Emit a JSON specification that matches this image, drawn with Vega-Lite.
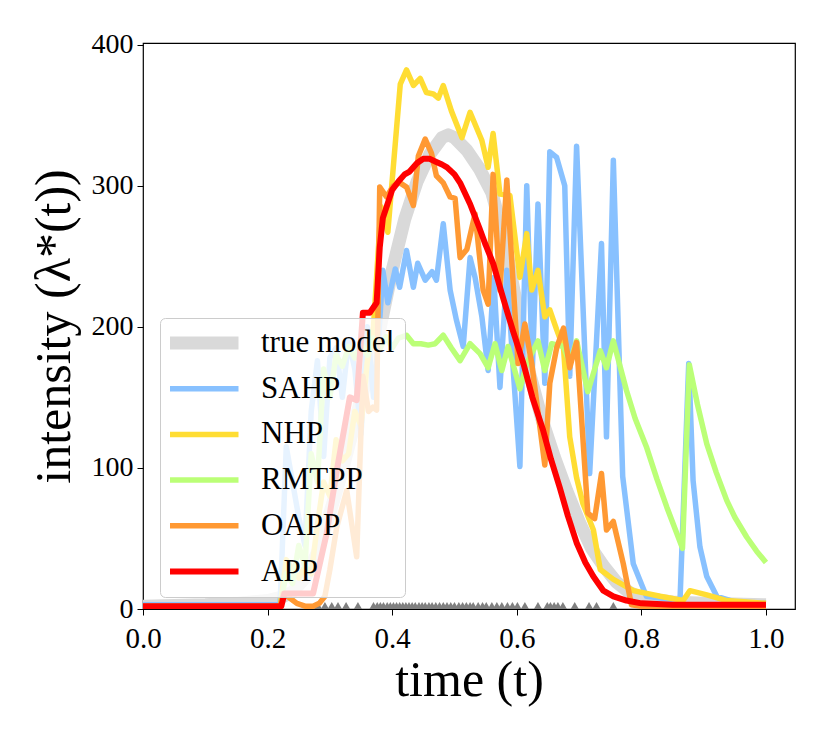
{
  "$schema": "https://vega.github.io/schema/vega-lite/v6.json",
  "width": 652,
  "height": 566,
  "autosize": "none",
  "padding": {"left": 143, "top": 43, "right": 35, "bottom": 129},
  "background": "white",
  "config": {
    "view": {"stroke": "black", "strokeWidth": 1.2},
    "font": "Liberation Serif",
    "axis": {
      "domain": false, "grid": false, "tickColor": "black", "tickSize": 6, "tickWidth": 1, "labelFlush": false,
      "labelFont": "Liberation Serif", "labelFontSize": 29, "labelColor": "black", "labelPadding": 3,
      "titleFont": "Liberation Serif", "titleFontSize": 50, "titleFontWeight": "normal", "titleColor": "black"
    },
    "axisX": {"labelPadding": 9},
    "axisY": {"labelFontSize": 28, "labelPadding": 4}
  },
  "datasets": {
    "events": [
      {"t": 0.281}, {"t": 0.292}, {"t": 0.303}, {"t": 0.313}, {"t": 0.326}, {"t": 0.345},
      {"t": 0.370}, {"t": 0.376}, {"t": 0.381}, {"t": 0.386}, {"t": 0.392}, {"t": 0.397},
      {"t": 0.402}, {"t": 0.407}, {"t": 0.412}, {"t": 0.417}, {"t": 0.422}, {"t": 0.427},
      {"t": 0.432}, {"t": 0.437}, {"t": 0.443}, {"t": 0.448}, {"t": 0.453}, {"t": 0.459},
      {"t": 0.464}, {"t": 0.470}, {"t": 0.476}, {"t": 0.482}, {"t": 0.488}, {"t": 0.494},
      {"t": 0.500}, {"t": 0.507}, {"t": 0.513}, {"t": 0.519}, {"t": 0.525}, {"t": 0.530},
      {"t": 0.538}, {"t": 0.545}, {"t": 0.551}, {"t": 0.560}, {"t": 0.568}, {"t": 0.576},
      {"t": 0.585}, {"t": 0.593}, {"t": 0.601}, {"t": 0.613}, {"t": 0.634}, {"t": 0.649},
      {"t": 0.654}, {"t": 0.660}, {"t": 0.666}, {"t": 0.674}, {"t": 0.693}, {"t": 0.716},
      {"t": 0.728}, {"t": 0.755}
    ],
    "curves": [
      {"model": "true model", "t": 0, "v": 2}, {"model": "true model", "t": 0.05, "v": 2.5},
      {"model": "true model", "t": 0.1, "v": 3}, {"model": "true model", "t": 0.15, "v": 4},
      {"model": "true model", "t": 0.2, "v": 6}, {"model": "true model", "t": 0.22, "v": 8},
      {"model": "true model", "t": 0.24, "v": 12}, {"model": "true model", "t": 0.26, "v": 22},
      {"model": "true model", "t": 0.28, "v": 40}, {"model": "true model", "t": 0.30, "v": 68},
      {"model": "true model", "t": 0.32, "v": 98}, {"model": "true model", "t": 0.34, "v": 132},
      {"model": "true model", "t": 0.36, "v": 166}, {"model": "true model", "t": 0.38, "v": 198},
      {"model": "true model", "t": 0.40, "v": 240}, {"model": "true model", "t": 0.42, "v": 276},
      {"model": "true model", "t": 0.44, "v": 303}, {"model": "true model", "t": 0.46, "v": 322},
      {"model": "true model", "t": 0.48, "v": 334}, {"model": "true model", "t": 0.49, "v": 336},
      {"model": "true model", "t": 0.50, "v": 334}, {"model": "true model", "t": 0.52, "v": 325},
      {"model": "true model", "t": 0.54, "v": 312}, {"model": "true model", "t": 0.56, "v": 295},
      {"model": "true model", "t": 0.58, "v": 262}, {"model": "true model", "t": 0.60, "v": 215},
      {"model": "true model", "t": 0.62, "v": 168}, {"model": "true model", "t": 0.64, "v": 135},
      {"model": "true model", "t": 0.66, "v": 108}, {"model": "true model", "t": 0.68, "v": 84},
      {"model": "true model", "t": 0.70, "v": 62}, {"model": "true model", "t": 0.72, "v": 43},
      {"model": "true model", "t": 0.74, "v": 30}, {"model": "true model", "t": 0.76, "v": 19},
      {"model": "true model", "t": 0.78, "v": 12}, {"model": "true model", "t": 0.80, "v": 8},
      {"model": "true model", "t": 0.85, "v": 5}, {"model": "true model", "t": 0.90, "v": 4},
      {"model": "true model", "t": 1.0, "v": 3},

      {"model": "SAHP", "t": 0, "v": 3}, {"model": "SAHP", "t": 0.22, "v": 3},
      {"model": "SAHP", "t": 0.23, "v": 115}, {"model": "SAHP", "t": 0.24, "v": 90},
      {"model": "SAHP", "t": 0.25, "v": 65}, {"model": "SAHP", "t": 0.26, "v": 45},
      {"model": "SAHP", "t": 0.27, "v": 140}, {"model": "SAHP", "t": 0.28, "v": 176},
      {"model": "SAHP", "t": 0.29, "v": 108}, {"model": "SAHP", "t": 0.30, "v": 178},
      {"model": "SAHP", "t": 0.31, "v": 185}, {"model": "SAHP", "t": 0.32, "v": 150},
      {"model": "SAHP", "t": 0.33, "v": 190}, {"model": "SAHP", "t": 0.34, "v": 170},
      {"model": "SAHP", "t": 0.35, "v": 124}, {"model": "SAHP", "t": 0.36, "v": 200},
      {"model": "SAHP", "t": 0.37, "v": 150}, {"model": "SAHP", "t": 0.378, "v": 190},
      {"model": "SAHP", "t": 0.385, "v": 240}, {"model": "SAHP", "t": 0.393, "v": 217},
      {"model": "SAHP", "t": 0.405, "v": 241}, {"model": "SAHP", "t": 0.412, "v": 228},
      {"model": "SAHP", "t": 0.423, "v": 254}, {"model": "SAHP", "t": 0.434, "v": 228},
      {"model": "SAHP", "t": 0.441, "v": 245}, {"model": "SAHP", "t": 0.453, "v": 233},
      {"model": "SAHP", "t": 0.464, "v": 239}, {"model": "SAHP", "t": 0.471, "v": 233},
      {"model": "SAHP", "t": 0.482, "v": 273}, {"model": "SAHP", "t": 0.493, "v": 226},
      {"model": "SAHP", "t": 0.503, "v": 205}, {"model": "SAHP", "t": 0.514, "v": 186},
      {"model": "SAHP", "t": 0.525, "v": 249}, {"model": "SAHP", "t": 0.533, "v": 235},
      {"model": "SAHP", "t": 0.544, "v": 207}, {"model": "SAHP", "t": 0.554, "v": 169},
      {"model": "SAHP", "t": 0.563, "v": 235}, {"model": "SAHP", "t": 0.573, "v": 157},
      {"model": "SAHP", "t": 0.584, "v": 240}, {"model": "SAHP", "t": 0.595, "v": 165},
      {"model": "SAHP", "t": 0.605, "v": 101}, {"model": "SAHP", "t": 0.616, "v": 300},
      {"model": "SAHP", "t": 0.625, "v": 170}, {"model": "SAHP", "t": 0.634, "v": 287},
      {"model": "SAHP", "t": 0.645, "v": 160}, {"model": "SAHP", "t": 0.653, "v": 324},
      {"model": "SAHP", "t": 0.664, "v": 320}, {"model": "SAHP", "t": 0.677, "v": 300},
      {"model": "SAHP", "t": 0.685, "v": 165}, {"model": "SAHP", "t": 0.696, "v": 328},
      {"model": "SAHP", "t": 0.717, "v": 96}, {"model": "SAHP", "t": 0.736, "v": 259},
      {"model": "SAHP", "t": 0.744, "v": 122}, {"model": "SAHP", "t": 0.755, "v": 318},
      {"model": "SAHP", "t": 0.770, "v": 94}, {"model": "SAHP", "t": 0.787, "v": 32},
      {"model": "SAHP", "t": 0.808, "v": 9}, {"model": "SAHP", "t": 0.862, "v": 6},
      {"model": "SAHP", "t": 0.876, "v": 174}, {"model": "SAHP", "t": 0.883, "v": 91},
      {"model": "SAHP", "t": 0.894, "v": 44}, {"model": "SAHP", "t": 0.905, "v": 23},
      {"model": "SAHP", "t": 0.921, "v": 9}, {"model": "SAHP", "t": 0.95, "v": 5},
      {"model": "SAHP", "t": 1.0, "v": 4},

      {"model": "NHP", "t": 0, "v": 1}, {"model": "NHP", "t": 0.22, "v": 1},
      {"model": "NHP", "t": 0.23, "v": 35}, {"model": "NHP", "t": 0.24, "v": 28},
      {"model": "NHP", "t": 0.25, "v": 22}, {"model": "NHP", "t": 0.26, "v": 30},
      {"model": "NHP", "t": 0.27, "v": 25}, {"model": "NHP", "t": 0.28, "v": 60},
      {"model": "NHP", "t": 0.29, "v": 90}, {"model": "NHP", "t": 0.30, "v": 80},
      {"model": "NHP", "t": 0.31, "v": 120}, {"model": "NHP", "t": 0.32, "v": 105},
      {"model": "NHP", "t": 0.33, "v": 110}, {"model": "NHP", "t": 0.34, "v": 140},
      {"model": "NHP", "t": 0.35, "v": 130}, {"model": "NHP", "t": 0.36, "v": 175},
      {"model": "NHP", "t": 0.37, "v": 200}, {"model": "NHP", "t": 0.382, "v": 285},
      {"model": "NHP", "t": 0.393, "v": 267}, {"model": "NHP", "t": 0.413, "v": 372},
      {"model": "NHP", "t": 0.423, "v": 382}, {"model": "NHP", "t": 0.434, "v": 371},
      {"model": "NHP", "t": 0.445, "v": 376}, {"model": "NHP", "t": 0.455, "v": 366},
      {"model": "NHP", "t": 0.466, "v": 365}, {"model": "NHP", "t": 0.474, "v": 362},
      {"model": "NHP", "t": 0.482, "v": 371}, {"model": "NHP", "t": 0.495, "v": 353},
      {"model": "NHP", "t": 0.512, "v": 334}, {"model": "NHP", "t": 0.525, "v": 352},
      {"model": "NHP", "t": 0.544, "v": 332}, {"model": "NHP", "t": 0.554, "v": 313},
      {"model": "NHP", "t": 0.562, "v": 337}, {"model": "NHP", "t": 0.573, "v": 294},
      {"model": "NHP", "t": 0.589, "v": 293}, {"model": "NHP", "t": 0.605, "v": 235},
      {"model": "NHP", "t": 0.616, "v": 266}, {"model": "NHP", "t": 0.624, "v": 226},
      {"model": "NHP", "t": 0.634, "v": 240}, {"model": "NHP", "t": 0.645, "v": 207},
      {"model": "NHP", "t": 0.653, "v": 212}, {"model": "NHP", "t": 0.664, "v": 198},
      {"model": "NHP", "t": 0.675, "v": 185}, {"model": "NHP", "t": 0.685, "v": 122},
      {"model": "NHP", "t": 0.696, "v": 93}, {"model": "NHP", "t": 0.706, "v": 75},
      {"model": "NHP", "t": 0.723, "v": 56}, {"model": "NHP", "t": 0.734, "v": 28},
      {"model": "NHP", "t": 0.755, "v": 21}, {"model": "NHP", "t": 0.787, "v": 13},
      {"model": "NHP", "t": 0.83, "v": 9}, {"model": "NHP", "t": 0.867, "v": 6},
      {"model": "NHP", "t": 0.878, "v": 13}, {"model": "NHP", "t": 0.905, "v": 10},
      {"model": "NHP", "t": 0.937, "v": 6}, {"model": "NHP", "t": 1.0, "v": 4},

      {"model": "RMTPP", "t": 0, "v": 2}, {"model": "RMTPP", "t": 0.22, "v": 2},
      {"model": "RMTPP", "t": 0.23, "v": 25}, {"model": "RMTPP", "t": 0.24, "v": 18},
      {"model": "RMTPP", "t": 0.25, "v": 45}, {"model": "RMTPP", "t": 0.26, "v": 30},
      {"model": "RMTPP", "t": 0.27, "v": 110}, {"model": "RMTPP", "t": 0.28, "v": 90},
      {"model": "RMTPP", "t": 0.29, "v": 170}, {"model": "RMTPP", "t": 0.30, "v": 150},
      {"model": "RMTPP", "t": 0.31, "v": 180}, {"model": "RMTPP", "t": 0.32, "v": 172},
      {"model": "RMTPP", "t": 0.33, "v": 186}, {"model": "RMTPP", "t": 0.34, "v": 178},
      {"model": "RMTPP", "t": 0.35, "v": 188}, {"model": "RMTPP", "t": 0.36, "v": 180},
      {"model": "RMTPP", "t": 0.37, "v": 192}, {"model": "RMTPP", "t": 0.38, "v": 184},
      {"model": "RMTPP", "t": 0.39, "v": 193}, {"model": "RMTPP", "t": 0.40, "v": 185},
      {"model": "RMTPP", "t": 0.41, "v": 192}, {"model": "RMTPP", "t": 0.423, "v": 194},
      {"model": "RMTPP", "t": 0.434, "v": 188}, {"model": "RMTPP", "t": 0.446, "v": 188},
      {"model": "RMTPP", "t": 0.458, "v": 187}, {"model": "RMTPP", "t": 0.469, "v": 188},
      {"model": "RMTPP", "t": 0.482, "v": 194}, {"model": "RMTPP", "t": 0.495, "v": 185},
      {"model": "RMTPP", "t": 0.509, "v": 176}, {"model": "RMTPP", "t": 0.525, "v": 188},
      {"model": "RMTPP", "t": 0.541, "v": 181}, {"model": "RMTPP", "t": 0.554, "v": 171},
      {"model": "RMTPP", "t": 0.565, "v": 188}, {"model": "RMTPP", "t": 0.576, "v": 169},
      {"model": "RMTPP", "t": 0.586, "v": 186}, {"model": "RMTPP", "t": 0.605, "v": 156},
      {"model": "RMTPP", "t": 0.616, "v": 174}, {"model": "RMTPP", "t": 0.634, "v": 190},
      {"model": "RMTPP", "t": 0.645, "v": 169}, {"model": "RMTPP", "t": 0.656, "v": 188},
      {"model": "RMTPP", "t": 0.675, "v": 186}, {"model": "RMTPP", "t": 0.685, "v": 174},
      {"model": "RMTPP", "t": 0.696, "v": 190}, {"model": "RMTPP", "t": 0.714, "v": 154},
      {"model": "RMTPP", "t": 0.734, "v": 183}, {"model": "RMTPP", "t": 0.744, "v": 171},
      {"model": "RMTPP", "t": 0.755, "v": 190}, {"model": "RMTPP", "t": 0.776, "v": 155},
      {"model": "RMTPP", "t": 0.79, "v": 135}, {"model": "RMTPP", "t": 0.808, "v": 115},
      {"model": "RMTPP", "t": 0.825, "v": 92}, {"model": "RMTPP", "t": 0.841, "v": 72},
      {"model": "RMTPP", "t": 0.866, "v": 43}, {"model": "RMTPP", "t": 0.877, "v": 173},
      {"model": "RMTPP", "t": 0.89, "v": 145}, {"model": "RMTPP", "t": 0.905, "v": 117},
      {"model": "RMTPP", "t": 0.92, "v": 97}, {"model": "RMTPP", "t": 0.937, "v": 77},
      {"model": "RMTPP", "t": 0.95, "v": 65}, {"model": "RMTPP", "t": 0.969, "v": 51},
      {"model": "RMTPP", "t": 0.985, "v": 41}, {"model": "RMTPP", "t": 1.0, "v": 33},

      {"model": "OAPP", "t": 0, "v": 2}, {"model": "OAPP", "t": 0.22, "v": 2},
      {"model": "OAPP", "t": 0.225, "v": 11}, {"model": "OAPP", "t": 0.235, "v": 8},
      {"model": "OAPP", "t": 0.247, "v": 4}, {"model": "OAPP", "t": 0.26, "v": 2},
      {"model": "OAPP", "t": 0.273, "v": 2}, {"model": "OAPP", "t": 0.283, "v": 4},
      {"model": "OAPP", "t": 0.292, "v": 9}, {"model": "OAPP", "t": 0.30, "v": 28},
      {"model": "OAPP", "t": 0.311, "v": 58}, {"model": "OAPP", "t": 0.327, "v": 84},
      {"model": "OAPP", "t": 0.343, "v": 37}, {"model": "OAPP", "t": 0.353, "v": 165},
      {"model": "OAPP", "t": 0.362, "v": 140}, {"model": "OAPP", "t": 0.369, "v": 143},
      {"model": "OAPP", "t": 0.375, "v": 141}, {"model": "OAPP", "t": 0.380, "v": 299},
      {"model": "OAPP", "t": 0.391, "v": 292}, {"model": "OAPP", "t": 0.402, "v": 300},
      {"model": "OAPP", "t": 0.4125, "v": 302}, {"model": "OAPP", "t": 0.423, "v": 299},
      {"model": "OAPP", "t": 0.434, "v": 286}, {"model": "OAPP", "t": 0.442, "v": 321},
      {"model": "OAPP", "t": 0.453, "v": 333}, {"model": "OAPP", "t": 0.463, "v": 323},
      {"model": "OAPP", "t": 0.471, "v": 307}, {"model": "OAPP", "t": 0.482, "v": 302},
      {"model": "OAPP", "t": 0.493, "v": 292}, {"model": "OAPP", "t": 0.501, "v": 291},
      {"model": "OAPP", "t": 0.509, "v": 249}, {"model": "OAPP", "t": 0.520, "v": 255},
      {"model": "OAPP", "t": 0.533, "v": 280}, {"model": "OAPP", "t": 0.546, "v": 226},
      {"model": "OAPP", "t": 0.554, "v": 216}, {"model": "OAPP", "t": 0.562, "v": 308},
      {"model": "OAPP", "t": 0.573, "v": 226}, {"model": "OAPP", "t": 0.584, "v": 304},
      {"model": "OAPP", "t": 0.602, "v": 174}, {"model": "OAPP", "t": 0.613, "v": 202},
      {"model": "OAPP", "t": 0.624, "v": 174}, {"model": "OAPP", "t": 0.645, "v": 102},
      {"model": "OAPP", "t": 0.653, "v": 160}, {"model": "OAPP", "t": 0.664, "v": 185},
      {"model": "OAPP", "t": 0.675, "v": 199}, {"model": "OAPP", "t": 0.685, "v": 171},
      {"model": "OAPP", "t": 0.696, "v": 189}, {"model": "OAPP", "t": 0.714, "v": 68},
      {"model": "OAPP", "t": 0.725, "v": 64}, {"model": "OAPP", "t": 0.736, "v": 96},
      {"model": "OAPP", "t": 0.744, "v": 56}, {"model": "OAPP", "t": 0.755, "v": 62},
      {"model": "OAPP", "t": 0.771, "v": 32}, {"model": "OAPP", "t": 0.784, "v": 3},
      {"model": "OAPP", "t": 0.8, "v": 2}, {"model": "OAPP", "t": 1.0, "v": 2},

      {"model": "APP", "t": 0, "v": 2}, {"model": "APP", "t": 0.222, "v": 2},
      {"model": "APP", "t": 0.227, "v": 11}, {"model": "APP", "t": 0.273, "v": 11},
      {"model": "APP", "t": 0.295, "v": 54}, {"model": "APP", "t": 0.311, "v": 98},
      {"model": "APP", "t": 0.332, "v": 150}, {"model": "APP", "t": 0.343, "v": 148},
      {"model": "APP", "t": 0.353, "v": 210}, {"model": "APP", "t": 0.364, "v": 210},
      {"model": "APP", "t": 0.375, "v": 217}, {"model": "APP", "t": 0.380, "v": 256},
      {"model": "APP", "t": 0.385, "v": 277}, {"model": "APP", "t": 0.400, "v": 297},
      {"model": "APP", "t": 0.410, "v": 303}, {"model": "APP", "t": 0.420, "v": 308},
      {"model": "APP", "t": 0.428, "v": 310}, {"model": "APP", "t": 0.440, "v": 316},
      {"model": "APP", "t": 0.450, "v": 319}, {"model": "APP", "t": 0.460, "v": 319},
      {"model": "APP", "t": 0.470, "v": 317}, {"model": "APP", "t": 0.480, "v": 315},
      {"model": "APP", "t": 0.488, "v": 313}, {"model": "APP", "t": 0.500, "v": 308},
      {"model": "APP", "t": 0.509, "v": 302}, {"model": "APP", "t": 0.525, "v": 287},
      {"model": "APP", "t": 0.540, "v": 270}, {"model": "APP", "t": 0.550, "v": 258},
      {"model": "APP", "t": 0.562, "v": 245}, {"model": "APP", "t": 0.575, "v": 225},
      {"model": "APP", "t": 0.585, "v": 210}, {"model": "APP", "t": 0.594, "v": 197},
      {"model": "APP", "t": 0.610, "v": 175}, {"model": "APP", "t": 0.625, "v": 150},
      {"model": "APP", "t": 0.642, "v": 127}, {"model": "APP", "t": 0.655, "v": 106},
      {"model": "APP", "t": 0.669, "v": 86}, {"model": "APP", "t": 0.682, "v": 66},
      {"model": "APP", "t": 0.696, "v": 47}, {"model": "APP", "t": 0.710, "v": 33},
      {"model": "APP", "t": 0.723, "v": 23}, {"model": "APP", "t": 0.739, "v": 13},
      {"model": "APP", "t": 0.755, "v": 9}, {"model": "APP", "t": 0.776, "v": 6},
      {"model": "APP", "t": 0.8, "v": 4}, {"model": "APP", "t": 0.85, "v": 3},
      {"model": "APP", "t": 1.0, "v": 3}
    ]
  },
  "encoding": {
    "x": {
      "field": "t", "type": "quantitative",
      "scale": {"domain": [0, 1.0466], "nice": false, "zero": false},
      "axis": {"values": [0, 0.2, 0.4, 0.6, 0.8, 1.0], "format": ".1f", "title": "time (t)", "titlePadding": 2}
    }
  },
  "layer": [
    {
      "data": {"name": "events"},
      "mark": {"type": "point", "shape": "triangle-up", "filled": true, "size": 260, "color": "#808080", "opacity": 1, "clip": true},
      "encoding": {
        "y": {
          "datum": 0, "type": "quantitative",
          "scale": {"domain": [0, 401.1], "nice": false},
          "axis": {"values": [0, 100, 200, 300, 400], "title": "intensity (λ*(t))", "titlePadding": 12}
        }
      }
    },
    {
      "data": {"name": "curves"},
      "mark": {"type": "line", "clip": true, "strokeJoin": "round"},
      "encoding": {
        "y": {
          "field": "v", "type": "quantitative",
          "scale": {"domain": [0, 401.1], "nice": false},
          "axis": {"values": [0, 100, 200, 300, 400], "title": "intensity (λ*(t))", "titlePadding": 12}
        },
        "color": {
          "field": "model", "type": "nominal",
          "scale": {
            "domain": ["true model", "SAHP", "NHP", "RMTPP", "OAPP", "APP"],
            "range": ["#d9d9d9", "#88c1ff", "#ffdd33", "#bbff77", "#ff9933", "#ff0000"]
          },
          "legend": {
            "orient": "none", "legendX": 17, "legendY": 275, "title": null,
            "symbolType": "stroke", "symbolSize": 4900, "clipHeight": 30, "rowPadding": 14.7,
            "padding": 10, "symbolOffset": -8, "labelFont": "Liberation Serif", "labelFontSize": 31, "labelColor": "black",
            "labelOffset": 16, "labelLimit": 300, "fillColor": "rgba(255,255,255,0.8)", "strokeColor": "#cccccc", "cornerRadius": 5
          }
        },
        "strokeWidth": {
          "field": "model", "type": "nominal",
          "scale": {
            "type": "ordinal",
            "domain": ["true model", "SAHP", "NHP", "RMTPP", "OAPP", "APP"],
            "range": [13, 5.5, 5.5, 5.5, 5.5, 6]
          }
        }
      }
    }
  ]
}
